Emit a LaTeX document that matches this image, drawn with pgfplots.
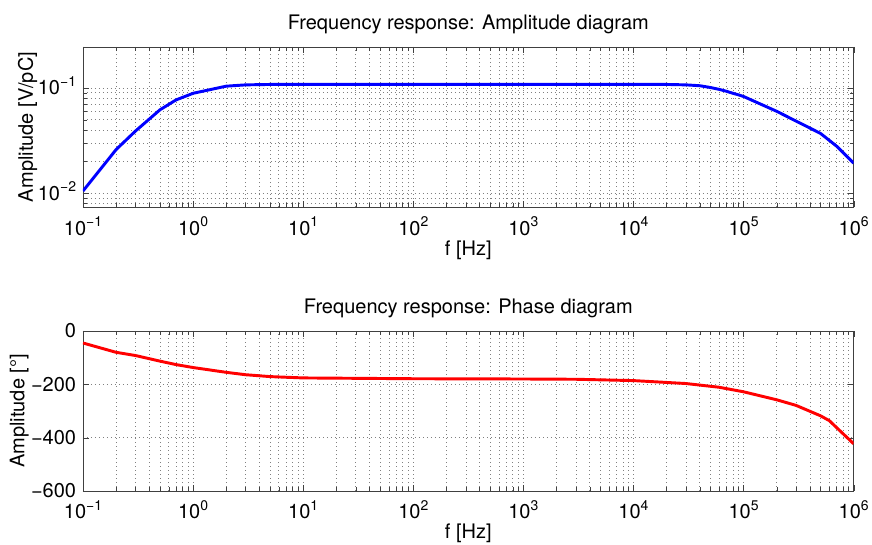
\documentclass[border=0pt,12pt]{standalone}
\usepackage{fontspec}
\setmainfont{TeX Gyre Heros}
\usepackage{pgfplots}
\pgfplotsset{compat=1.18}

\newcommand{\expo}[1]{\raisebox{0.42em}{\fontsize{10.5}{10.5}\selectfont #1}}
\newcommand{\logtick}{\pgfmathtruncatemacro{\e}{round(\tick)}10\expo{\ifnum\e<0 −\number\numexpr-\e\relax\else\e\fi}}

\pgfplotsset{
  bode/.style={
    scale only axis, width=578pt, height=120pt,
    xmin=0.1, xmax=1e6,
    axis line style={black!75},
    tick style={black!75},
    tick align=inside,
    grid=both,
    major grid style={black!50, line width=0.45pt, dash pattern=on 0.6pt off 2.4pt},
    minor grid style={black!50, line width=0.45pt, dash pattern=on 0.6pt off 2.4pt},
    xticklabel={\logtick},
    xticklabel style={anchor=base, yshift=-21pt},
    yticklabel style={anchor=base east, yshift=-5.2pt},
    xlabel={f [Hz]},
    every axis x label/.style={at={(axis description cs:0.5,0)}, anchor=base, yshift=-36pt},
    every axis y label/.style={at={(axis description cs:-0.0649,0.5)}, rotate=90, anchor=base},
    every axis title/.style={at={(axis description cs:0.5,1)}, anchor=base, yshift=13pt},
    /pgf/number format/assume math mode=true,
  }
}

\begin{document}
\fontsize{15}{18}\selectfont
\begin{tikzpicture}
\path[use as bounding box] (-62.25pt,35.25pt) rectangle (591.75pt,-373.5pt);

\begin{axis}[xmode=log, log basis x=10, ymode=log, log basis y=10,
  bode,
  name=top, at={(0pt,0pt)}, anchor=north west,
  ymin=0.0074, ymax=0.245,
  yticklabel={\logtick},
  ylabel={Amplitude [V/pC]},
  title={Frequency response: Amplitude diagram},
]
\addplot[blue, line width=2.2pt] coordinates {
(0.1,0.0105) (0.2,0.026) (0.3,0.039) (0.5,0.062) (0.7,0.077) (1,0.089)
(2,0.104) (3,0.107) (5,0.108) (10,0.108) (100,0.108) (1000,0.108)
(1e4,0.108) (2e4,0.108) (3e4,0.107) (4e4,0.105) (5e4,0.101) (6e4,0.097)
(7e4,0.093) (8e4,0.089) (9e4,0.086)
(1e5,0.083) (2e5,0.060) (5e5,0.037) (7e5,0.028) (1e6,0.0193)
};
\end{axis}

\begin{axis}[xmode=log, log basis x=10,
  bode,
  name=bottom, at={(0pt,-213pt)}, anchor=north west,
  ymin=-600, ymax=0,
  ytick={-600,-400,-200,0},
  yticklabels={−600,−400,−200,0},
  ylabel={Amplitude [°]},
  ylabel style={at={(axis description cs:-0.076,0.5)}},
  title={Frequency response: Phase diagram},
]
\addplot[red, line width=2.2pt] coordinates {
(0.1,-45) (0.2,-80) (0.3,-92) (0.5,-113) (0.7,-126) (1,-137)
(2,-155) (3,-164) (5,-171) (10,-176) (100,-179) (1000,-180)
(3000,-181) (1e4,-186) (3e4,-197) (6e4,-211) (1e5,-228) (2e5,-258)
(3e5,-279) (5e5,-318) (6e5,-336) (1e6,-423)
};
\end{axis}
\end{tikzpicture}
\end{document}
